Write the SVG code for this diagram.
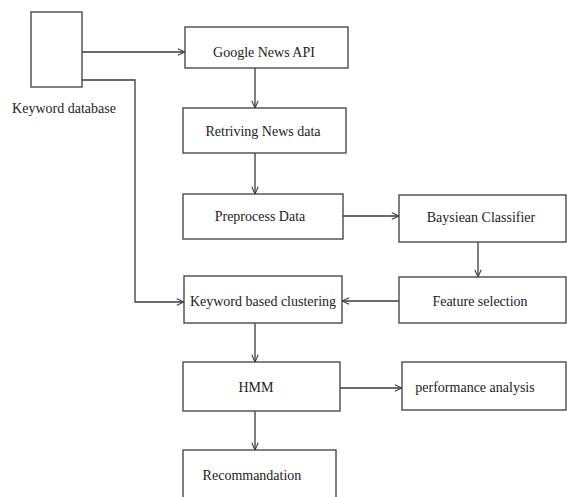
<svg xmlns="http://www.w3.org/2000/svg" width="567" height="497" viewBox="0 0 567 497">
<defs>
<style>
.box{fill:#fff;stroke:#4a4a4a;stroke-width:1.4}
.lbl{font-family:"Liberation Serif","Times New Roman",serif;font-size:14px;fill:#222;text-anchor:middle}
.con{fill:none;stroke:#3a3a3a;stroke-width:1.3}
</style>
<marker id="ah" viewBox="0 0 10 10" refX="10" refY="5" markerWidth="8" markerHeight="8" markerUnits="userSpaceOnUse" orient="auto">
<path d="M1,1 L10,5 L1,9" fill="none" stroke="#3a3a3a" stroke-width="1.3"/>
</marker>
</defs>
<rect width="567" height="497" fill="#fff"/>
<g id="connectors">
<path class="con" d="M82,52 H185" marker-end="url(#ah)"/>
<path class="con" d="M82,80 H135 V302 H184" marker-end="url(#ah)"/>
<path class="con" d="M255,68 V108" marker-end="url(#ah)"/>
<path class="con" d="M255,153 V194" marker-end="url(#ah)"/>
<path class="con" d="M343,216 H399" marker-end="url(#ah)"/>
<path class="con" d="M478,242 V277" marker-end="url(#ah)"/>
<path class="con" d="M399,301 H342" marker-end="url(#ah)"/>
<path class="con" d="M255,323 V362" marker-end="url(#ah)"/>
<path class="con" d="M340,388 H402" marker-end="url(#ah)"/>
<path class="con" d="M255,411 V450" marker-end="url(#ah)"/>
</g>
<g id="keyword-database">
<rect class="box" x="31" y="12" width="51" height="75"/>
<text class="lbl" x="64" y="113">Keyword database</text>
</g>
<g id="google-news-api">
<rect class="box" x="185" y="27" width="163" height="41"/>
<text class="lbl" x="264" y="57">Google News API</text>
</g>
<g id="retriving-news-data">
<rect class="box" x="183" y="108" width="163" height="45"/>
<text class="lbl" x="263" y="136">Retriving News data</text>
</g>
<g id="preprocess-data">
<rect class="box" x="183" y="194" width="160" height="45"/>
<text class="lbl" x="260" y="221">Preprocess Data</text>
</g>
<g id="bayesian-classifier">
<rect class="box" x="399" y="195" width="167" height="47"/>
<text class="lbl" x="481" y="222">Baysiean Classifier</text>
</g>
<g id="feature-selection">
<rect class="box" x="399" y="277" width="167" height="46"/>
<text class="lbl" x="480" y="306">Feature selection</text>
</g>
<g id="keyword-based-clustering">
<rect class="box" x="184" y="276" width="158" height="47"/>
<text class="lbl" x="263" y="306">Keyword based clustering</text>
</g>
<g id="hmm">
<rect class="box" x="183" y="362" width="157" height="49"/>
<text class="lbl" x="256" y="392">HMM</text>
</g>
<g id="performance-analysis">
<rect class="box" x="402" y="362" width="164" height="48"/>
<text class="lbl" x="475" y="392">performance analysis</text>
</g>
<g id="recommandation">
<rect class="box" x="183" y="450" width="153" height="60"/>
<text class="lbl" x="252" y="480">Recommandation</text>
</g>
</svg>
